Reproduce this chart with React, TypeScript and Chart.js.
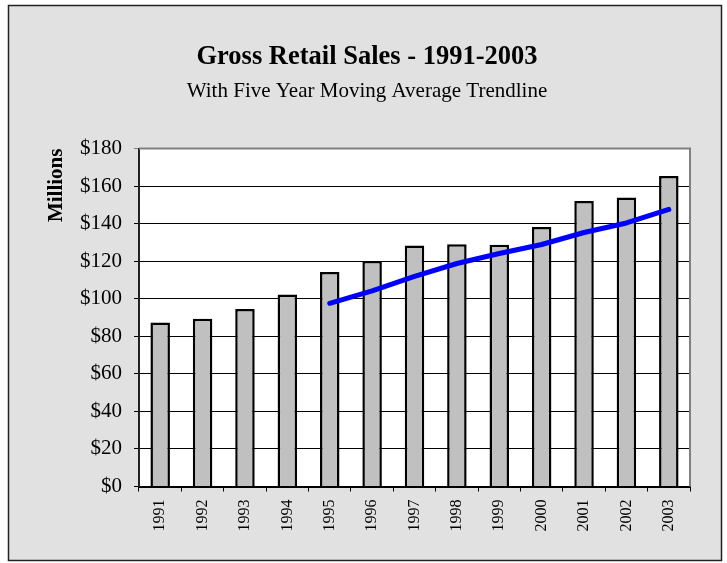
import React, { useEffect, useRef } from "react";
import { Chart, registerables } from "chart.js";

Chart.register(...registerables);

const years = ["1991", "1992", "1993", "1994", "1995", "1996", "1997", "1998", "1999", "2000", "2001", "2002", "2003"];
const sales = [87.4, 89.3, 94.5, 102.3, 114.2, 120.1, 128.4, 129.0, 128.8, 138.2, 152.1, 154.0, 165.4];
const movingAvg = [null, null, null, null, 97.6, 104.2, 111.9, 118.8, 124.1, 128.9, 135.3, 140.4, 147.6];
const yTicks = [0, 20, 40, 60, 80, 100, 120, 140, 160, 180];

const SERIF = '"Liberation Serif", "Times New Roman", Times, serif';

const framePlugin = {
  id: "frame",
  beforeDraw(chart: any) {
    const { ctx, chartArea } = chart;
    ctx.save();
    ctx.fillStyle = "#ffffff";
    ctx.fillRect(0, 0, chart.width, chart.height);
    ctx.fillStyle = "#e1e1e1";
    ctx.fillRect(8, 5, 714, 556);
    ctx.strokeStyle = "#222222";
    ctx.lineWidth = 1.5;
    ctx.strokeRect(8.5, 5.5, 713, 555);
    ctx.fillStyle = "#ffffff";
    ctx.fillRect(chartArea.left, chartArea.top, chartArea.right - chartArea.left, chartArea.bottom - chartArea.top);
    ctx.restore();
  },
  afterDatasetsDraw(chart: any) {
    const { ctx, chartArea } = chart;
    ctx.save();
    ctx.strokeStyle = "#808080";
    ctx.lineWidth = 2;
    ctx.beginPath();
    ctx.moveTo(chartArea.left, chartArea.top);
    ctx.lineTo(chartArea.right, chartArea.top);
    ctx.lineTo(chartArea.right, chartArea.bottom);
    ctx.stroke();
    ctx.restore();
  },
};

export default function App() {
  const ref = useRef<HTMLCanvasElement | null>(null);

  useEffect(() => {
    if (!ref.current) return;
    const chart = new Chart(ref.current, {
      type: "bar",
      data: {
        labels: years,
        datasets: [
          {
            type: "line",
            label: "Five Year Moving Average",
            data: movingAvg,
            borderColor: "#0000ff",
            borderWidth: 5,
            pointRadius: 0,
            borderCapStyle: "round",
            borderJoinStyle: "round",
            fill: false,
            tension: 0,
            order: 0,
          } as any,
          {
            type: "bar",
            label: "Gross Retail Sales",
            data: sales,
            backgroundColor: "#c0c0c0",
            borderColor: "#000000",
            borderWidth: 2.5,
            barPercentage: 0.46,
            categoryPercentage: 1,
            order: 1,
          } as any,
        ],
      },
      options: {
        responsive: false,
        animation: false,
        layout: { padding: { left: 44, right: 37, top: 0, bottom: 0 } },
        plugins: {
          legend: { display: false },
          tooltip: { enabled: false },
          title: {
            display: true,
            text: "Gross Retail Sales - 1991-2003",
            color: "#000",
            font: { family: SERIF, size: 26.5, weight: "bold" },
            padding: { top: 41.2, bottom: 3 },
          },
          subtitle: {
            display: true,
            text: "With Five Year Moving Average Trendline",
            color: "#000",
            font: { family: SERIF, size: 21, weight: "normal" },
            padding: { top: 3.2, bottom: 44.2 },
          },
        },
        scales: {
          x: {
            offset: true,
            grid: {
              display: true,
              offset: true,
              drawOnChartArea: false,
              drawTicks: true,
              tickLength: 5,
              color: "#000",
              lineWidth: 1,
            },
            border: { display: true, color: "#000", width: 2 },
            ticks: {
              autoSkip: false,
              maxRotation: 90,
              minRotation: 90,
              padding: 8,
              color: "#000",
              font: { family: SERIF, size: 16 },
            },
            afterFit(scale: any) {
              scale.height = 563 - 486.5;
            },
          },
          y: {
            min: 0,
            max: 180,
            grid: {
              color: (c: any) => (c.tick && c.tick.value === 180 ? "#808080" : "#000"),
              lineWidth: 1,
              drawTicks: true,
              tickLength: 5,
            },
            border: { display: true, color: "#222", width: 2 },
            afterBuildTicks(scale: any) {
              scale.ticks = yTicks.map((v) => ({ value: v }));
            },
            ticks: {
              padding: 12,
              color: "#000",
              font: { family: SERIF, size: 21 },
              callback: (v: any) => "$" + v,
            },
            title: {
              display: true,
              text: "Millions",
              align: "end",
              color: "#000",
              font: { family: SERIF, size: 21, weight: "bold" },
              padding: { top: 0, bottom: 0 },
            },
            afterFit(scale: any) {
              scale.width = 139 - 44;
            },
          },
        },
      },
      plugins: [framePlugin],
    });
    return () => chart.destroy();
  }, []);

  return (
    <div style={{ position: "absolute", left: 0, top: 0, width: 727, height: 563 }}>
      <canvas ref={ref} width={727} height={563} style={{ display: "block" }} />
    </div>
  );
}
